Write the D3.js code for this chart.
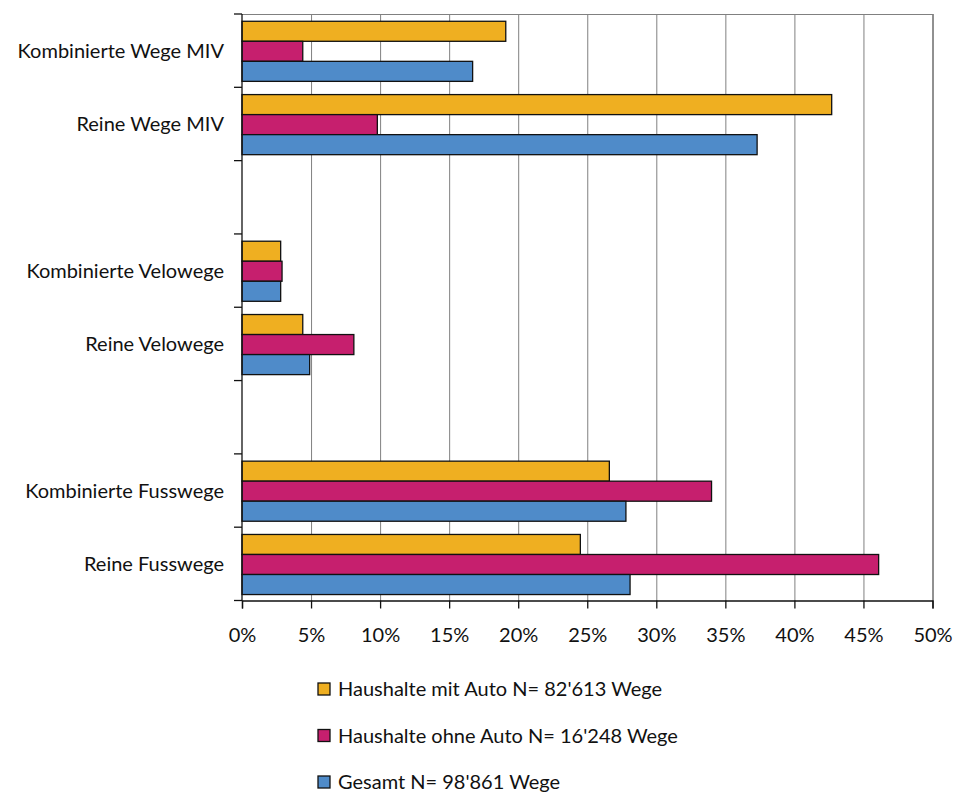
<!DOCTYPE html>
<html>
<head>
<meta charset="utf-8">
<script src="https://cdn.jsdelivr.net/npm/d3@7"></script>
<style>
  body { margin: 0; background: #fff; }
  svg text { font-family: "Lato", "Open Sans", sans-serif; fill: #111; }
</style>
</head>
<body>
<div id="chart"></div>
<script>
// categories top to bottom, empty strings are spacer rows
const categories = [
  "Kombinierte Wege MIV",
  "Reine Wege MIV",
  "",
  "Kombinierte Velowege",
  "Reine Velowege",
  " ",
  "Kombinierte Fusswege",
  "Reine Fusswege",
];
const seriesNames = [
  "Haushalte mit Auto N= 82'613 Wege",
  "Haushalte ohne Auto N= 16'248 Wege",
  "Gesamt N= 98'861 Wege",
];
const seriesColors = ["#EFAF21", "#C61F6E", "#4F8BC9"];
// values in %, one per category (null for spacer rows)
const mitAuto = [19.1, 42.7, null, 2.8, 4.4, null, 26.6, 24.5];
const ohneAuto = [4.4, 9.8, null, 2.9, 8.1, null, 34.0, 46.1];
const gesamt = [16.7, 37.3, null, 2.8, 4.9, null, 27.8, 28.1];
const xTicks = [0, 5, 10, 15, 20, 25, 30, 35, 40, 45, 50];

const width = 953;
const height = 795;
const margin = { left: 242, right: 20, top: 14, bottom: 195 };
const fontSize = 20;

const svg = d3
  .select("#chart")
  .append("svg")
  .attr("width", width)
  .attr("height", height);

const xScale = d3.scaleLinear().domain([0, 50]).range([margin.left, 932.5]);
const yScale = d3
  .scaleBand()
  .domain(categories)
  .range([margin.top, height - margin.bottom + 0.5])
  .padding(0);
const ySub = d3
  .scaleBand()
  .domain(seriesNames)
  .range([0, yScale.bandwidth()])
  .paddingOuter(0.33)
  .paddingInner(0)
  .align(0.55);

const plotBottom = yScale.range()[1];

// vertical gridlines
svg
  .append("g")
  .selectAll("line")
  .data(xTicks.slice(1))
  .join("line")
  .attr("x1", (d) => xScale(d) + 0.5)
  .attr("x2", (d) => xScale(d) + 0.5)
  .attr("y1", margin.top)
  .attr("y2", plotBottom)
  .attr("stroke", (d) => (d === 50 ? "#222" : "#808080"))
  .attr("stroke-width", 1);

// top border
svg
  .append("line")
  .attr("x1", xScale(0))
  .attr("x2", xScale(50) + 0.5)
  .attr("y1", margin.top + 0.5)
  .attr("y2", margin.top + 0.5)
  .attr("stroke", "#808080");

// bars
const data = [mitAuto, ohneAuto, gesamt];
const rows = categories.map((c, i) => ({
  cat: c,
  vals: seriesNames.map((s, j) => ({ s, color: seriesColors[j], v: data[j][i] })),
}));

const groups = svg
  .append("g")
  .selectAll("g")
  .data(rows.filter((r) => r.vals[0].v !== null))
  .join("g")
  .attr("transform", (d) => `translate(0, ${yScale(d.cat)})`);

groups
  .selectAll("rect")
  .data((d) => d.vals)
  .join("rect")
  .attr("x", xScale(0))
  .attr("y", (d) => ySub(d.s))
  .attr("width", (d) => xScale(d.v) - xScale(0))
  .attr("height", ySub.bandwidth())
  .attr("fill", (d) => d.color)
  .attr("stroke", "#111")
  .attr("stroke-width", 1.3);

// y axis: ticks at band boundaries
const yAxisG = svg.append("g");
const boundaries = categories.map((c) => yScale(c)).concat([plotBottom]);
yAxisG
  .append("line")
  .attr("x1", xScale(0))
  .attr("x2", xScale(0))
  .attr("y1", margin.top)
  .attr("y2", plotBottom)
  .attr("stroke", "#111")
  .attr("stroke-width", 1.3);
yAxisG
  .selectAll("line.tick")
  .data(boundaries)
  .join("line")
  .attr("class", "tick")
  .attr("x1", xScale(0) - 8)
  .attr("x2", xScale(0))
  .attr("y1", (d) => d)
  .attr("y2", (d) => d)
  .attr("stroke", "#111")
  .attr("stroke-width", 1.3);
yAxisG
  .selectAll("text")
  .data(categories.filter((c) => c.trim() !== ""))
  .join("text")
  .attr("x", 224)
  .attr("y", (d) => yScale(d) + yScale.bandwidth() / 2)
  .attr("dy", "0.35em")
  .attr("text-anchor", "end")
  .attr("font-size", fontSize)
  .text((d) => d);

// x axis
const xAxis = svg
  .append("g")
  .attr("transform", `translate(0, ${plotBottom})`)
  .call(
    d3
      .axisBottom(xScale)
      .tickValues(xTicks)
      .tickSize(8)
      .tickPadding(19)
      .tickFormat((d) => d + "%")
  );
xAxis.select(".domain").attr("stroke", "#111").attr("stroke-width", 1.3);
xAxis.selectAll(".tick line").attr("stroke", "#111").attr("stroke-width", 1.3);
xAxis
  .selectAll(".tick text")
  .attr("font-size", fontSize)
  .attr("font-family", "Lato, sans-serif")
  .attr("fill", "#111");

// legend
const legend = svg
  .append("g")
  .selectAll("g")
  .data(seriesNames)
  .join("g")
  .attr("transform", (d, i) => `translate(318, ${689 + i * 46.5})`);
legend
  .append("rect")
  .attr("x", 0)
  .attr("y", -6)
  .attr("width", 12)
  .attr("height", 12)
  .attr("fill", (d, i) => seriesColors[i])
  .attr("stroke", "#111")
  .attr("stroke-width", 1.3);
legend
  .append("text")
  .attr("x", 20)
  .attr("y", 0)
  .attr("dy", "0.35em")
  .attr("font-size", fontSize)
  .text((d) => d);
</script>
</body>
</html>
